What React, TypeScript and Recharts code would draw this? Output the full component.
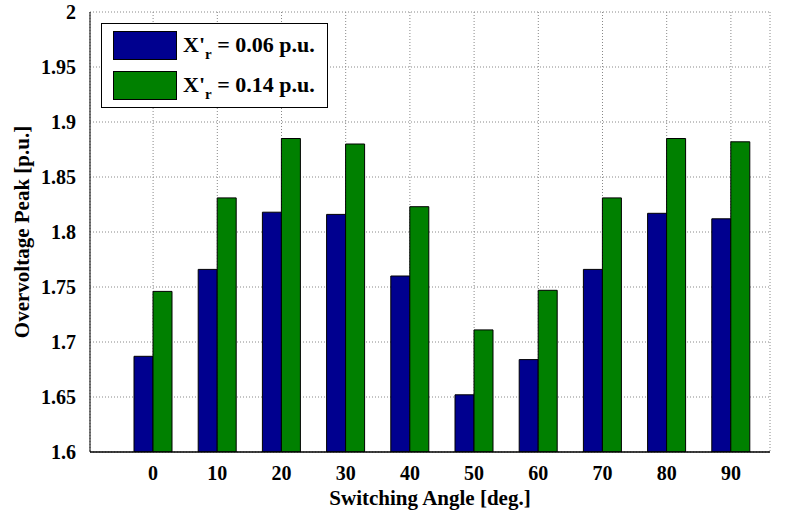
import {
  BarChart, Bar, XAxis, YAxis, CartesianGrid,
} from "recharts";

const angles = ["0", "10", "20", "30", "40", "50", "60", "70", "80", "90"];
const lowReactance = [1.687, 1.766, 1.818, 1.816, 1.76, 1.652, 1.684, 1.766, 1.817, 1.812];
const highReactance = [1.746, 1.831, 1.885, 1.88, 1.823, 1.711, 1.747, 1.831, 1.885, 1.882];
const yTicks = [1.6, 1.65, 1.7, 1.75, 1.8, 1.85, 1.9, 1.95, 2];

const data = angles.map((a, i) => ({ angle: a, low: lowReactance[i], high: highReactance[i] }));

const FONT = "'Liberation Serif', 'Times New Roman', serif";
const BLUE = "#00008f";
const GREEN = "#008000";

function fmt(v: number) {
  return String(Number(v.toFixed(2)));
}

function LegendBox() {
  const row = (color: string, value: string) => (
    <div style={{ display: "flex", alignItems: "center", height: 40 }}>
      <div style={{ width: 62, height: 27, background: color, border: "1px solid #000", flexShrink: 0 }} />
      <span style={{ marginLeft: 6, fontFamily: FONT, fontWeight: 700, fontSize: 22, color: "#000", whiteSpace: "nowrap", lineHeight: "22px" }}>
        X'<sub style={{ fontSize: 15, verticalAlign: "-7px", lineHeight: 0 }}>r</sub> = {value} p.u.
      </span>
    </div>
  );
  return (
    <div style={{
      position: "absolute", left: 101, top: 23, width: 214, height: 82,
      border: "1px solid #000", background: "#fff", padding: "1px 0 0 11px",
    }}>
      {row(BLUE, "0.06")}
      {row(GREEN, "0.14")}
    </div>
  );
}

const tickStyle = { fill: "#000", fontSize: 20, fontWeight: 700, fontFamily: FONT };
const titleStyle = { fill: "#000", fontSize: 21, fontWeight: 700, fontFamily: FONT };
const blank = () => "";

export default function App() {
  return (
    <div style={{ position: "absolute", left: 0, top: 0, width: 785, height: 514, background: "#fff" }}>
      <BarChart
        width={785}
        height={514}
        data={data}
        margin={{ top: 12, right: 15, bottom: 32, left: 0 }}
        barGap={0}
        barSize={19}
      >
        <CartesianGrid stroke="#888" strokeDasharray="1 2" />
        <XAxis
          dataKey="angle"
          height={30}
          padding={{ left: 31, right: 7 }}
          axisLine={{ stroke: "#000", strokeWidth: 1.5 }}
          tickLine={false}
          tick={tickStyle}
          tickMargin={8}
          label={{ value: "Switching Angle [deg.]", position: "insideBottom", offset: -23, ...titleStyle }}
        />
        <XAxis xAxisId="top" orientation="top" dataKey="angle" tick={false} tickLine={false} axisLine={{ stroke: "#000" }} height={0} />
        <YAxis
          width={90}
          domain={[1.6, 2]}
          ticks={yTicks}
          tickFormatter={fmt}
          allowDataOverflow
          axisLine={{ stroke: "#000" }}
          tickLine={false}
          tickMargin={8}
          tick={tickStyle}
          label={{ value: "Overvoltage Peak [p.u.]", angle: -90, position: "insideLeft", offset: 22, style: { textAnchor: "middle" }, ...titleStyle }}
        />
        <YAxis
          yAxisId="leftTicks"
          mirror
          width={0}
          domain={[1.6, 2]}
          ticks={yTicks}
          tickFormatter={blank}
          axisLine={false}
          tickSize={5}
          tickLine={{ stroke: "#000" }}
        />
        <YAxis
          yAxisId="right"
          orientation="right"
          mirror
          width={0}
          domain={[1.6, 2]}
          ticks={yTicks}
          tickFormatter={blank}
          tickSize={5}
          tickLine={{ stroke: "#000" }}
          axisLine={{ stroke: "#000" }}
        />
        <Bar dataKey="low" fill={BLUE} stroke="#000" strokeWidth={1} isAnimationActive={false} />
        <Bar dataKey="high" fill={GREEN} stroke="#000" strokeWidth={1} isAnimationActive={false} />
      </BarChart>
      <LegendBox />
    </div>
  );
}
